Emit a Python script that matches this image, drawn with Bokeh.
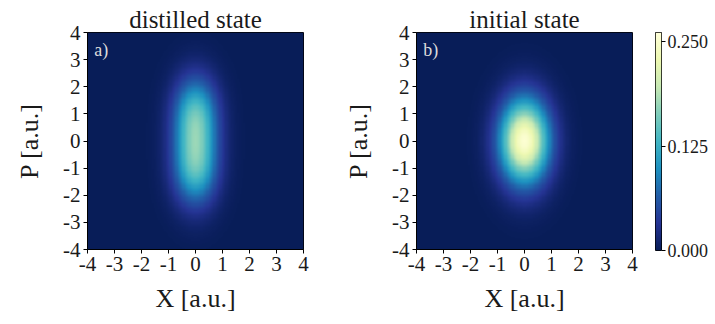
import numpy as np
from bokeh.plotting import figure
from bokeh.layouts import row
from bokeh.models import LinearColorMapper, FixedTicker
from bokeh.embed import file_html
from bokeh.resources import INLINE
from bokeh.core.properties import value

# ---------------- data ----------------
PANEL_TITLES = ["distilled state", "initial state"]
PANEL_TAGS = ["a)", "b)"]
AXIS_TICKS = [-4, -3, -2, -1, 0, 1, 2, 3, 4]
AXIS_TICK_LABELS = ["-4", "-3", "-2", "-1", "0", "1", "2", "3", "4"]
X_LABEL = "X [a.u.]"
Y_LABEL = "P [a.u.]"
PHASE_SPACE_EXTENT = [-4.0, 4.0]

# distilled state: elongated flat-topped blob (two overlapping lobes along P)
DISTILLED_LOBE_AMPS = [0.138, 0.138]
DISTILLED_LOBE_P = [-0.95, 0.95]
DISTILLED_SIGMA_X = 0.57
DISTILLED_SIGMA_P = 1.0

# initial state: single squeezed gaussian blob
INITIAL_PEAK = 0.255
INITIAL_SIGMA_X = 0.65
INITIAL_SIGMA_P = 1.1

CBAR_TICKS = [0.0, 0.125, 0.25]
CBAR_LABELS = ["0.000", "0.125", "0.250"]
CBAR_RANGE = [0.0, 0.261]

YLGNBU_STOPS = ["#081d58", "#253494", "#225ea8", "#1d91c0", "#41b6c4",
                "#7fcdbb", "#c7e9b4", "#edf8b1", "#ffffd9"]

# ---------------- build fields ----------------
N = 181
grid = np.linspace(PHASE_SPACE_EXTENT[0], PHASE_SPACE_EXTENT[1], N)
XX, PP = np.meshgrid(grid, grid)

distilled = np.zeros_like(XX)
for amp, pc in zip(DISTILLED_LOBE_AMPS, DISTILLED_LOBE_P):
    distilled += amp * np.exp(-XX**2 / (2 * DISTILLED_SIGMA_X**2)
                              - (PP - pc)**2 / (2 * DISTILLED_SIGMA_P**2))
initial = INITIAL_PEAK * np.exp(-XX**2 / (2 * INITIAL_SIGMA_X**2)
                                - PP**2 / (2 * INITIAL_SIGMA_P**2))
FIELDS = [distilled, initial]


def hex_to_rgb(h):
    return np.array([int(h[i:i + 2], 16) for i in (1, 3, 5)], dtype=float)


stops = np.array([hex_to_rgb(h) for h in YLGNBU_STOPS])
pos = np.linspace(0, 1, len(stops))
palette = []
for t in np.linspace(0, 1, 256):
    rgb = [np.interp(t, pos, stops[:, k]) for k in range(3)]
    palette.append("#%02x%02x%02x" % tuple(int(round(c)) for c in rgb))

mapper = LinearColorMapper(palette=palette, low=CBAR_RANGE[0], high=CBAR_RANGE[1])

FONT = "'Liberation Serif', 'DejaVu Serif', serif"
INK = "#1a1a1a"


def style_axis(ax, label, standoff):
    ax.axis_label = label
    ax.axis_label_text_font = FONT
    ax.axis_label_text_font_style = "normal"
    ax.axis_label_text_font_size = "26px"
    ax.axis_label_text_color = INK
    ax.axis_label_standoff = standoff
    ax.major_label_text_font = FONT
    ax.major_label_text_font_size = "21px"
    ax.major_label_text_color = INK
    ax.major_label_standoff = 3
    ax.ticker = FixedTicker(ticks=AXIS_TICKS)
    ax.major_label_overrides = {t: l for t, l in zip(AXIS_TICKS, AXIS_TICK_LABELS)}
    ax.major_tick_out = 4
    ax.major_tick_in = 0
    ax.minor_tick_line_color = None
    ax.axis_line_color = "black"
    ax.major_tick_line_color = "black"


def make_panel(field, title, tag, left_border, right_border):
    p = figure(frame_width=216, frame_height=217,
               min_border_left=left_border, min_border_right=right_border,
               min_border_top=32, min_border_bottom=75,
               x_range=tuple(PHASE_SPACE_EXTENT), y_range=tuple(PHASE_SPACE_EXTENT),
               output_backend="svg", toolbar_location=None, tools="")
    p.image(image=[field], x=PHASE_SPACE_EXTENT[0], y=PHASE_SPACE_EXTENT[0],
            dw=PHASE_SPACE_EXTENT[1] - PHASE_SPACE_EXTENT[0],
            dh=PHASE_SPACE_EXTENT[1] - PHASE_SPACE_EXTENT[0],
            color_mapper=mapper)
    p.text(x=[-3.75], y=[3.72], text=[tag], text_font=value(FONT),
           text_font_size="18px", text_color="#dcdcdc",
           text_baseline="top", text_align="left")
    p.title.text = title
    p.title.align = "center"
    p.title.text_font = FONT
    p.title.text_font_size = "25px"
    p.title.text_font_style = "normal"
    p.title.text_color = INK
    p.title.standoff = 0
    p.title.offset = 0
    style_axis(p.xaxis[0], X_LABEL, 10)
    style_axis(p.yaxis[0], Y_LABEL, 16)
    p.xgrid.visible = False
    p.ygrid.visible = False
    p.outline_line_color = "black"
    p.outline_line_width = 1
    p.background_fill_color = "white"
    p.border_fill_color = "white"
    return p


p1 = make_panel(FIELDS[0], PANEL_TITLES[0], PANEL_TAGS[0], 87, 37)
p2 = make_panel(FIELDS[1], PANEL_TITLES[1], PANEL_TAGS[1], 76, 7)

# colorbar as a thin figure
cb = figure(frame_width=6, frame_height=218,
            min_border_left=16, min_border_right=53,
            min_border_top=31, min_border_bottom=75,
            x_range=(0, 1), y_range=tuple(CBAR_RANGE),
            y_axis_location="right", output_backend="svg",
            toolbar_location=None, tools="")
grad = np.linspace(CBAR_RANGE[0], CBAR_RANGE[1], 256).reshape(256, 1)
cb.image(image=[grad], x=0, y=CBAR_RANGE[0], dw=1, dh=CBAR_RANGE[1] - CBAR_RANGE[0],
         color_mapper=mapper)
cb.xaxis.visible = False
cb.xgrid.visible = False
cb.ygrid.visible = False
yax = cb.yaxis[0]
yax.ticker = FixedTicker(ticks=CBAR_TICKS)
yax.major_label_overrides = {t: l for t, l in zip(CBAR_TICKS, CBAR_LABELS)}
yax.major_label_text_font = FONT
yax.major_label_text_font_size = "18px"
yax.major_label_text_color = INK
yax.major_tick_out = 4
yax.major_tick_in = 0
yax.minor_tick_line_color = None
yax.axis_line_color = None
yax.major_label_standoff = 2
cb.outline_line_color = "black"
cb.outline_line_width = 1
cb.border_fill_color = "white"

layout = row(p1, p2, cb)
open("out.html", "w").write(file_html(layout, INLINE))
